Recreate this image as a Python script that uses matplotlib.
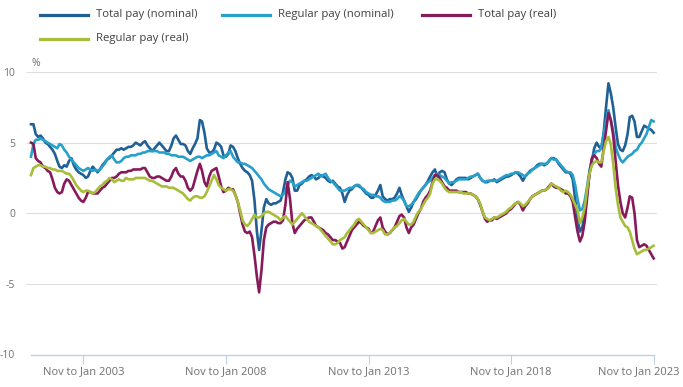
import numpy as np
import pandas as pd
import matplotlib
matplotlib.use('Agg')
import matplotlib.pyplot as plt
import matplotlib.transforms as mtransforms
from matplotlib.lines import Line2D

plt.rcParams['font.family'] = ['Open Sans', 'DejaVu Sans']

# Monthly 3-month-average growth, % (end month of each 3-month period)
# first period: Jan to Mar 2001, last: Nov to Jan 2023
dates = pd.date_range('2001-03-01', periods=263, freq='MS')

total_nominal = [
    6.3, 6.3, 5.6, 5.4, 5.5, 5.3, 5.0, 4.9, 4.7, 4.5,                 # 2001
    4.2, 3.7, 3.3, 3.2, 3.4, 3.3, 3.7, 3.9, 3.4, 3.1, 2.9, 2.8,       # 2002
    2.7, 2.5, 2.6, 3.0, 3.3, 3.1, 2.9, 3.1, 3.4, 3.6, 3.8, 3.9,       # 2003
    4.1, 4.3, 4.5, 4.5, 4.6, 4.5, 4.6, 4.7, 4.7, 4.8, 5.0, 4.9,       # 2004
    4.8, 5.0, 5.1, 4.8, 4.6, 4.4, 4.6, 4.8, 5.0, 4.8, 4.6, 4.4,       # 2005
    4.4, 4.8, 5.3, 5.5, 5.2, 4.9, 4.9, 4.8, 4.4, 4.2, 4.6, 4.9,       # 2006
    5.3, 6.6, 6.5, 5.7, 4.6, 4.3, 4.3, 4.5, 5.0, 4.9, 4.7, 4.1,       # 2007
    4.0, 4.2, 4.8, 4.7, 4.4, 3.9, 3.5, 3.2, 3.0, 2.9, 2.7, 2.3,       # 2008
    0.9, -1.3, -2.6, -1.2, 0.4, 1.0, 0.7, 0.6, 0.7, 0.7, 0.8, 0.9,    # 2009
    1.5, 2.4, 2.9, 2.8, 2.5, 1.6, 1.6, 2.0, 2.1, 2.3, 2.4, 2.6,       # 2010
    2.7, 2.6, 2.4, 2.5, 2.7, 2.6, 2.5, 2.3, 2.2, 2.3, 2.1, 1.9,       # 2011
    1.8, 1.4, 0.8, 1.3, 1.6, 1.7, 1.9, 2.0, 1.9, 1.8, 1.6, 1.4,       # 2012
    1.3, 1.1, 1.1, 1.3, 1.6, 2.0, 1.2, 1.0, 0.9, 1.0, 1.0, 1.1,       # 2013
    1.4, 1.8, 1.3, 0.9, 0.5, 0.1, 0.4, 0.8, 1.0, 1.3, 1.6, 1.8,       # 2014
    2.0, 2.3, 2.6, 2.9, 3.1, 2.6, 2.9, 3.0, 2.9, 2.4, 2.1, 2.0,       # 2015
    2.2, 2.4, 2.5, 2.5, 2.5, 2.5, 2.4, 2.5, 2.6, 2.7, 2.8, 2.5,       # 2016
    2.3, 2.2, 2.2, 2.3, 2.3, 2.4, 2.2, 2.3, 2.4, 2.5, 2.6, 2.6,       # 2017
    2.7, 2.8, 2.9, 2.8, 2.6, 2.3, 2.6, 2.8, 3.0, 3.1, 3.2, 3.4,       # 2018
    3.5, 3.5, 3.4, 3.5, 3.7, 3.9, 3.9, 3.8, 3.5, 3.3, 3.1, 2.9,       # 2019
    2.9, 2.8, 2.4, 1.0, -0.4, -1.3, -1.0, 0.0, 1.4, 2.8, 3.7, 4.6,    # 2020
    5.0, 4.7, 4.6, 5.7, 7.5, 9.2, 8.5, 7.5, 6.1, 4.9, 4.5, 4.4,       # 2021
    4.8, 5.6, 6.8, 6.9, 6.5, 5.4, 5.4, 5.8, 6.2, 6.1, 6.0, 5.9,       # 2022
    5.7,                                                              # 2023
]

regular_nominal = [
    4.0, 4.9, 5.2, 5.2, 5.3, 5.2, 5.1, 5.0, 4.9, 4.8,
    4.7, 4.6, 4.9, 4.8, 4.5, 4.3, 4.0, 3.8, 3.6, 3.4, 3.2, 3.1,
    3.0, 3.1, 3.2, 3.1, 3.0, 3.1, 3.0, 3.1, 3.3, 3.5, 3.8, 4.0,
    4.1, 3.8, 3.6, 3.6, 3.7, 3.9, 4.0, 4.0, 4.1, 4.1, 4.1, 4.2,
    4.2, 4.3, 4.3, 4.4, 4.4, 4.4, 4.4, 4.4, 4.3, 4.3, 4.3, 4.2,
    4.2, 4.1, 4.1, 4.1, 4.0, 4.0, 4.0, 3.9, 3.8, 3.7, 3.8, 3.9,
    4.0, 4.0, 3.9, 4.0, 4.1, 4.1, 4.2, 4.3, 4.4, 4.1, 4.0, 3.9,
    4.1, 4.3, 4.4, 4.0, 3.8, 3.6, 3.6, 3.5, 3.5, 3.4, 3.3, 3.2,
    3.0, 2.8, 2.6, 2.4, 2.1, 1.9, 1.7, 1.6, 1.5, 1.4, 1.3, 1.2,
    1.3, 1.6, 2.0, 2.3, 2.2, 1.9, 2.0, 2.1, 2.2, 2.3, 2.3, 2.4,
    2.5, 2.6, 2.7, 2.8, 2.6, 2.7, 2.8, 2.5, 2.3, 2.2, 2.0, 1.8,
    1.6, 1.6, 1.6, 1.7, 1.8, 1.8, 1.9, 2.0, 2.0, 1.8, 1.7, 1.5,
    1.4, 1.3, 1.3, 1.2, 1.2, 1.1, 0.9, 0.8, 0.8, 0.8, 0.9, 0.9,
    1.0, 1.2, 1.1, 0.9, 0.5, 0.5, 0.6, 0.8, 1.1, 1.4, 1.6, 1.8,
    2.0, 2.2, 2.3, 2.5, 2.7, 2.75, 2.7, 2.6, 2.5, 2.3, 2.1, 2.2,
    2.2, 2.3, 2.4, 2.4, 2.4, 2.4, 2.5, 2.6, 2.6, 2.7, 2.8, 2.5,
    2.3, 2.2, 2.3, 2.3, 2.3, 2.3, 2.3, 2.4, 2.5, 2.6, 2.7, 2.7,
    2.8, 2.8, 2.9, 2.9, 2.8, 2.7, 2.6, 2.8, 2.9, 3.1, 3.2, 3.3,
    3.4, 3.5, 3.5, 3.5, 3.7, 3.9, 3.8, 3.8, 3.6, 3.4, 3.2, 3.0,
    2.9, 2.9, 2.7, 2.0, 1.0, 0.2, 0.3, 0.9, 1.9, 3.0, 3.8, 4.2,
    4.4, 4.4, 4.6, 5.6, 6.5, 7.3, 6.6, 5.8, 4.7, 4.2, 3.8, 3.6,
    3.8, 4.0, 4.1, 4.2, 4.4, 4.5, 4.8, 5.0, 5.3, 5.6, 6.1, 6.6,
    6.5,
]

total_real = [
    5.0, 4.9, 3.9, 3.7, 3.6, 3.3, 3.2, 3.0, 2.9, 2.4,
    1.8, 1.5, 1.4, 1.5, 2.1, 2.4, 2.3, 2.0, 1.7, 1.4, 1.1, 0.9,
    0.8, 1.1, 1.5, 1.5, 1.4, 1.4, 1.4, 1.6, 1.8, 1.9, 2.1, 2.3,
    2.5, 2.5, 2.6, 2.8, 2.9, 2.9, 2.9, 3.0, 3.0, 3.1, 3.1, 3.1,
    3.1, 3.2, 3.2, 2.9, 2.6, 2.5, 2.5, 2.6, 2.6, 2.5, 2.4, 2.3,
    2.3, 2.6, 3.0, 3.2, 2.8, 2.6, 2.6, 2.3, 1.8, 1.6, 1.8, 2.4,
    3.0, 3.5, 3.0, 2.2, 1.9, 2.6, 3.0, 3.1, 3.2, 2.6, 1.9, 1.5,
    1.6, 1.8, 1.7, 1.7, 1.3, 0.8, 0.0, -0.8, -1.3, -1.4, -1.3, -1.7,
    -3.0, -4.5, -5.6, -4.0, -1.9, -1.0, -0.8, -0.7, -0.6, -0.6, -0.7, -0.7,
    -0.5, 0.6, 2.2, 1.0, -0.7, -1.4, -1.1, -0.9, -0.7, -0.5, -0.4, -0.3,
    -0.3, -0.6, -0.9, -1.0, -1.1, -1.2, -1.4, -1.5, -1.7, -1.9, -1.9, -2.0,
    -2.1, -2.5, -2.4, -2.0, -1.6, -1.2, -1.0, -0.8, -0.6, -0.7, -0.9, -1.0,
    -1.1, -1.4, -1.3, -0.9, -0.5, -0.3, -1.0, -1.3, -1.5, -1.4, -1.2, -1.0,
    -0.6, -0.2, -0.1, -0.3, -1.0, -1.4, -1.0, -0.8, -0.4, 0.0, 0.3, 0.8,
    1.1, 1.3, 1.6, 2.2, 2.7, 2.7, 2.5, 2.2, 1.9, 1.8, 1.6, 1.6,
    1.6, 1.6, 1.5, 1.5, 1.5, 1.5, 1.4, 1.4, 1.3, 1.2, 1.0, 0.6,
    0.1, -0.4, -0.6, -0.5, -0.5, -0.3, -0.4, -0.3, -0.2, -0.1, 0.0, 0.2,
    0.3, 0.5, 0.7, 0.8, 0.6, 0.2, 0.5, 0.7, 1.0, 1.2, 1.3, 1.4,
    1.5, 1.6, 1.6, 1.7, 1.9, 2.1, 1.9, 1.8, 1.8, 1.7, 1.6, 1.4,
    1.4, 1.2, 0.8, -0.3, -1.3, -2.0, -1.6, -0.6, 1.1, 2.8, 3.9, 4.1,
    3.9, 3.5, 3.3, 4.6, 5.9, 7.1, 6.6, 5.5, 3.7, 2.0, 0.8, 0.0,
    -0.3, 0.4, 1.2, 1.1, 0.0, -1.9, -2.4, -2.3, -2.2, -2.3, -2.6, -2.9,
    -3.2,
]

regular_real = [
    2.7, 3.2, 3.3, 3.4, 3.4, 3.3, 3.3, 3.2, 3.2, 3.1,
    3.1, 3.0, 3.0, 3.0, 2.9, 2.8, 2.8, 2.6, 2.3, 2.0, 1.8, 1.6,
    1.5, 1.6, 1.6, 1.5, 1.4, 1.5, 1.7, 1.9, 2.0, 2.2, 2.3, 2.5,
    2.4, 2.2, 2.3, 2.4, 2.3, 2.3, 2.5, 2.4, 2.4, 2.4, 2.5, 2.5,
    2.5, 2.5, 2.5, 2.4, 2.3, 2.3, 2.2, 2.1, 2.0, 1.9, 1.9, 1.9,
    1.8, 1.8, 1.8, 1.7, 1.6, 1.5, 1.4, 1.2, 1.0, 0.9, 1.1, 1.2,
    1.2, 1.1, 1.1, 1.2, 1.5, 1.9, 2.3, 2.7, 2.4, 2.0, 1.8, 1.7,
    1.6, 1.7, 1.7, 1.6, 1.3, 0.8, 0.2, -0.5, -0.8, -0.9, -0.7, -0.4,
    -0.1, -0.3, -0.3, -0.2, 0.0, 0.1, 0.1, 0.0, -0.1, -0.2, -0.3, -0.5,
    -0.3, -0.2, -0.4, -0.6, -0.8, -0.6, -0.4, -0.2, 0.0, -0.2, -0.4, -0.6,
    -0.7, -0.8, -0.9, -1.0, -1.2, -1.4, -1.6, -1.8, -2.0, -2.2, -2.2, -2.1,
    -1.9, -1.8, -1.7, -1.4, -1.2, -1.0, -0.8, -0.5, -0.4, -0.6, -0.8, -1.0,
    -1.2, -1.4, -1.4, -1.3, -1.2, -1.1, -1.2, -1.5, -1.5, -1.4, -1.2, -1.0,
    -0.9, -0.7, -0.5, -0.4, -0.6, -0.8, -0.8, -0.6, -0.2, 0.1, 0.3, 0.6,
    0.9, 1.1, 1.4, 2.1, 2.4, 2.4, 2.3, 2.1, 1.8, 1.6, 1.5, 1.5,
    1.5, 1.5, 1.5, 1.5, 1.4, 1.4, 1.4, 1.4, 1.3, 1.2, 1.0, 0.7,
    0.1, -0.3, -0.4, -0.5, -0.4, -0.3, -0.3, -0.2, -0.1, 0.0, 0.1, 0.3,
    0.4, 0.6, 0.7, 0.8, 0.7, 0.5, 0.6, 0.8, 1.0, 1.2, 1.3, 1.4,
    1.5, 1.6, 1.6, 1.7, 1.8, 2.1, 2.0, 1.9, 1.8, 1.6, 1.5, 1.6,
    1.5, 1.3, 1.0, 0.6, 0.2, -0.7, -0.3, 0.4, 1.7, 2.8, 3.4, 3.6,
    3.7, 3.6, 3.6, 4.4, 5.1, 5.4, 4.9, 3.5, 1.8, 0.6, -0.3, -0.6,
    -0.9, -1.0, -1.3, -1.9, -2.5, -2.9, -2.8, -2.7, -2.6, -2.6, -2.5, -2.4,
    -2.3,
]

labels = ['Total pay (nominal)', 'Regular pay (nominal)', 'Total pay (real)', 'Regular pay (real)']
colors = ['#206095', '#27a0cc', '#871a5b', '#a8bd3a']
series = [total_nominal, regular_nominal, total_real, regular_real]

tick_dates = pd.to_datetime(['2003-01-01', '2008-01-01', '2013-01-01', '2018-01-01', '2023-01-01'])
tick_labels = ['Nov to Jan 2003', 'Nov to Jan 2008', 'Nov to Jan 2013', 'Nov to Jan 2018', 'Nov to Jan 2023']

W, H = 683, 387
fig = plt.figure(figsize=(W / 100, H / 100), dpi=100)
ax = fig.add_axes([26 / W, 1 - 354.5 / H, (657 - 26) / W, (354.5 - 72) / H])

# gridlines and axis line
ax.hlines([-5, 0, 5, 10], 0, 1, transform=ax.get_yaxis_transform(), color='#dedede', lw=0.8, zorder=0)
ax.plot([dates[0], dates[-1]], [-10, -10], color='#bfcfe6', lw=1.0, zorder=1, clip_on=False)

for vals, col in zip(series, colors):
    ax.plot(dates, vals, color=col, lw=1.9, solid_joinstyle='round', zorder=3)

ax.set_ylim(-10, 10)
ax.set_yticks([-10, -5, 0, 5, 10])
ax.set_yticklabels(['-10', '-5', '0', '5', '10'])
ax.set_xlim(dates[0] - pd.Timedelta(days=64), dates[-1] + pd.Timedelta(days=43))
ax.set_xticks(tick_dates)
ax.set_xticklabels(tick_labels)
for s in ax.spines.values():
    s.set_visible(False)
ax.tick_params(axis='x', length=6.5, width=0.8, color='#bfcfe6', pad=2, labelsize=8, labelcolor='#707070')
ax.tick_params(axis='y', length=0, pad=8, labelsize=7.5, labelcolor='#707070')

# last label is pulled left so it stays inside the figure
last = ax.get_xticklabels()[-1]
last.set_transform(last.get_transform() + mtransforms.ScaledTranslation(-15 / 100, 0, fig.dpi_scale_trans))

fig.text(32 / W, 1 - 63 / H, '%', fontsize=7.5, color='#707070', ha='left', va='center')

# legend, two rows
leg_pos = [(40, 15), (222, 15), (422, 15), (40, 39)]
for lab, col, (x0, y0) in zip(labels, colors, leg_pos):
    fig.add_artist(Line2D([x0 / W, (x0 + 48) / W], [1 - y0 / H, 1 - y0 / H], color=col, lw=2.3))
    fig.text((x0 + 56) / W, 1 - y0 / H, lab, fontsize=8.2, color='#414042', ha='left', va='center')

fig.savefig('out.png', dpi=100)
